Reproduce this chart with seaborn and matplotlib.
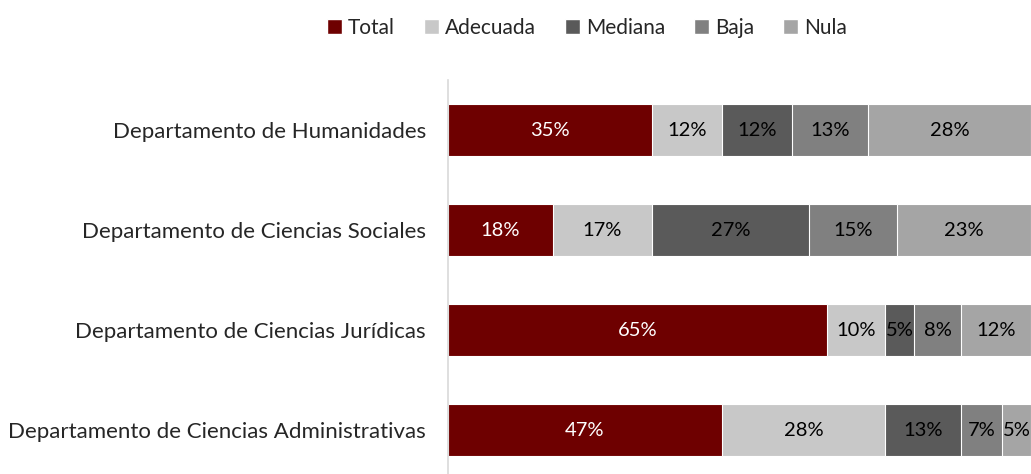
import pandas as pd
import matplotlib.pyplot as plt
import seaborn as sns
from matplotlib.patches import Patch

sns.set_style('white')
plt.rcParams['font.family'] = ['Lato', 'DejaVu Sans']

departments = ['Departamento de Humanidades',
               'Departamento de Ciencias Sociales',
               'Departamento de Ciencias Jurídicas',
               'Departamento de Ciencias Administrativas']
series = ['Total', 'Adecuada', 'Mediana', 'Baja', 'Nula']
total = [35, 18, 65, 47]
adecuada = [12, 17, 10, 28]
mediana = [12, 27, 5, 13]
baja = [13, 15, 8, 7]
nula = [28, 23, 12, 5]

colors = ['#6E0000', '#C8C8C8', '#5A5A5A', '#808080', '#A5A5A5']
text_colors = ['white', 'black', 'black', 'black', 'black']

df = pd.DataFrame({'dept': departments, 'Total': total, 'Adecuada': adecuada,
                   'Mediana': mediana, 'Baja': baja, 'Nula': nula})
cum = df[series].cumsum(axis=1)

fig = plt.figure(figsize=(10.31, 4.74), dpi=100)
ax = fig.add_axes([448 / 1031, 0.0, 1 - 448 / 1031, (474 - 80) / 474])

# stacked bars: draw cumulative totals from the widest down
for i in range(len(series) - 1, -1, -1):
    sns.barplot(x=cum[series[i]], y=df['dept'], orient='h', color=colors[i],
                width=0.52, edgecolor='white', linewidth=0.8, ax=ax,
                saturation=1)

for i, s in enumerate(series):
    for j in range(len(departments)):
        mid = cum[s][j] - df[s][j] / 2
        ax.text(mid, j, '{}%'.format(df[s][j]), ha='center', va='center',
                color=text_colors[i], fontsize=14.5)

ax.set_xlim(0, 100)
ax.set_ylim(3.44, -0.5)
ax.set_xlabel('')
ax.set_ylabel('')
ax.set_xticks([])
ax.tick_params(axis='y', length=0, pad=16, labelsize=16)
for side in ['top', 'right', 'bottom']:
    ax.spines[side].set_visible(False)
ax.spines['left'].set_color('#D9D9D9')
ax.spines['left'].set_linewidth(1.2)

handles = [Patch(facecolor=c, label=s) for c, s in zip(colors, series)]
fig.legend(handles=handles, loc='center', bbox_to_anchor=(587 / 1031, 1 - 28 / 474),
           ncol=5, frameon=False, fontsize=15, handlelength=0.7, handleheight=0.7,
           handletextpad=0.3, columnspacing=1.4)

fig.savefig('out.png', dpi=100)
